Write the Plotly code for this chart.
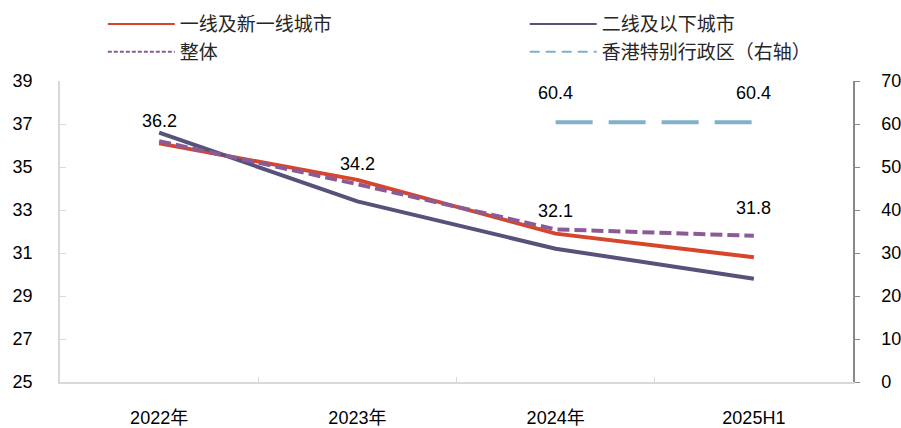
import plotly.graph_objects as go

# Categories and series values
categories = ["2022年", "2023年", "2024年", "2025H1"]
tier1_new_tier1 = [36.1, 34.4, 31.9, 30.8]
tier2_and_below = [36.6, 33.4, 31.2, 29.8]
overall = [36.2, 34.2, 32.1, 31.8]
hong_kong = [None, None, 60.4, 60.4]

series_names = ["一线及新一线城市", "二线及以下城市", "整体", "香港特别行政区（右轴）"]
left_ticks = [25, 27, 29, 31, 33, 35, 37, 39]
right_ticks = [0, 10, 20, 30, 40, 50, 60, 70]

# Label offsets above the points (pixels)
overall_label_shift = [20, 20, 18, 28]
hk_label_shift = [29, 29]

RED = "#D7462A"
NAVY = "#56527A"
PURPLE = "#8B5B95"
BLUE = "#80B1C8"
FONT = "Liberation Sans, Arial, Noto Sans CJK SC"

fig = go.Figure()

fig.add_trace(go.Scatter(x=categories, y=tier1_new_tier1, mode="lines",
                         line=dict(color=RED, width=4), showlegend=False))
fig.add_trace(go.Scatter(x=categories, y=tier2_and_below, mode="lines",
                         line=dict(color=NAVY, width=4), showlegend=False))
fig.add_trace(go.Scatter(x=categories, y=overall, mode="lines",
                         line=dict(color=PURPLE, width=4, dash="12px,5px"), showlegend=False))
fig.add_trace(go.Scatter(x=categories, y=hong_kong, mode="lines", yaxis="y2",
                         line=dict(color=BLUE, width=4, dash="37px,16px"), showlegend=False))

# Legend entries with thin line samples, split into two columns
legend_styles = [
    dict(color=RED, width=2),
    dict(color=NAVY, width=2),
    dict(color=PURPLE, width=2, dash="4px,2px"),
    dict(color=BLUE, width=2, dash="10px,6px"),
]
legend_columns = ["legend", "legend2", "legend", "legend2"]
for name, style, lg in zip(series_names, legend_styles, legend_columns):
    fig.add_trace(go.Scatter(x=[None], y=[None], mode="lines", name=name, line=style, legend=lg))

# Value labels
for cat, val, shift in zip(categories, overall, overall_label_shift):
    fig.add_annotation(x=cat, y=val, text=f"{val:.1f}", showarrow=False, yshift=shift,
                       font=dict(size=18, color="#000000", family=FONT))
for cat, val, shift in zip(categories[2:], hong_kong[2:], hk_label_shift):
    fig.add_annotation(x=cat, y=val, yref="y2", text=f"{val:.1f}", showarrow=False, yshift=shift,
                       font=dict(size=18, color="#000000", family=FONT))

legend_common = dict(
    orientation="v", xanchor="left", yanchor="top", yref="container", y=0.988,
    itemwidth=67, font=dict(size=19, family=FONT, color="#262626"),
    bgcolor="rgba(0,0,0,0)", tracegroupgap=0,
)

fig.update_layout(
    width=901, height=428,
    margin=dict(l=60, r=48, t=81, b=46),
    paper_bgcolor="white", plot_bgcolor="white",
    font=dict(family=FONT, size=18, color="#000000"),
    xaxis=dict(
        type="category", showgrid=False, showline=True, linecolor="#D9D9D9", linewidth=1.5,
        ticks="inside", ticklen=5, tickcolor="#D9D9D9", tickson="boundaries",
        ticklabelstandoff=19, tickfont=dict(size=18), range=[-0.5, 3.5], automargin=False,
    ),
    yaxis=dict(
        range=[25, 39], tickvals=left_ticks, showgrid=False, zeroline=False,
        showline=True, linecolor="#D9D9D9", linewidth=1.5,
        ticks="inside", ticklen=6, tickcolor="#D9D9D9",
        ticklabelstandoff=22, tickfont=dict(size=18), automargin=False,
    ),
    yaxis2=dict(
        range=[0, 70], tickvals=right_ticks, overlaying="y", side="right",
        showgrid=False, zeroline=False, showline=True, linecolor="#898989", linewidth=1.5,
        ticks="outside", ticklen=5, tickcolor="#898989",
        ticklabelstandoff=18, tickfont=dict(size=18), automargin=False,
    ),
    legend=dict(x=0.054, **legend_common),
    legend2=dict(x=0.586, **legend_common),
)

fig.write_html("out.html")
